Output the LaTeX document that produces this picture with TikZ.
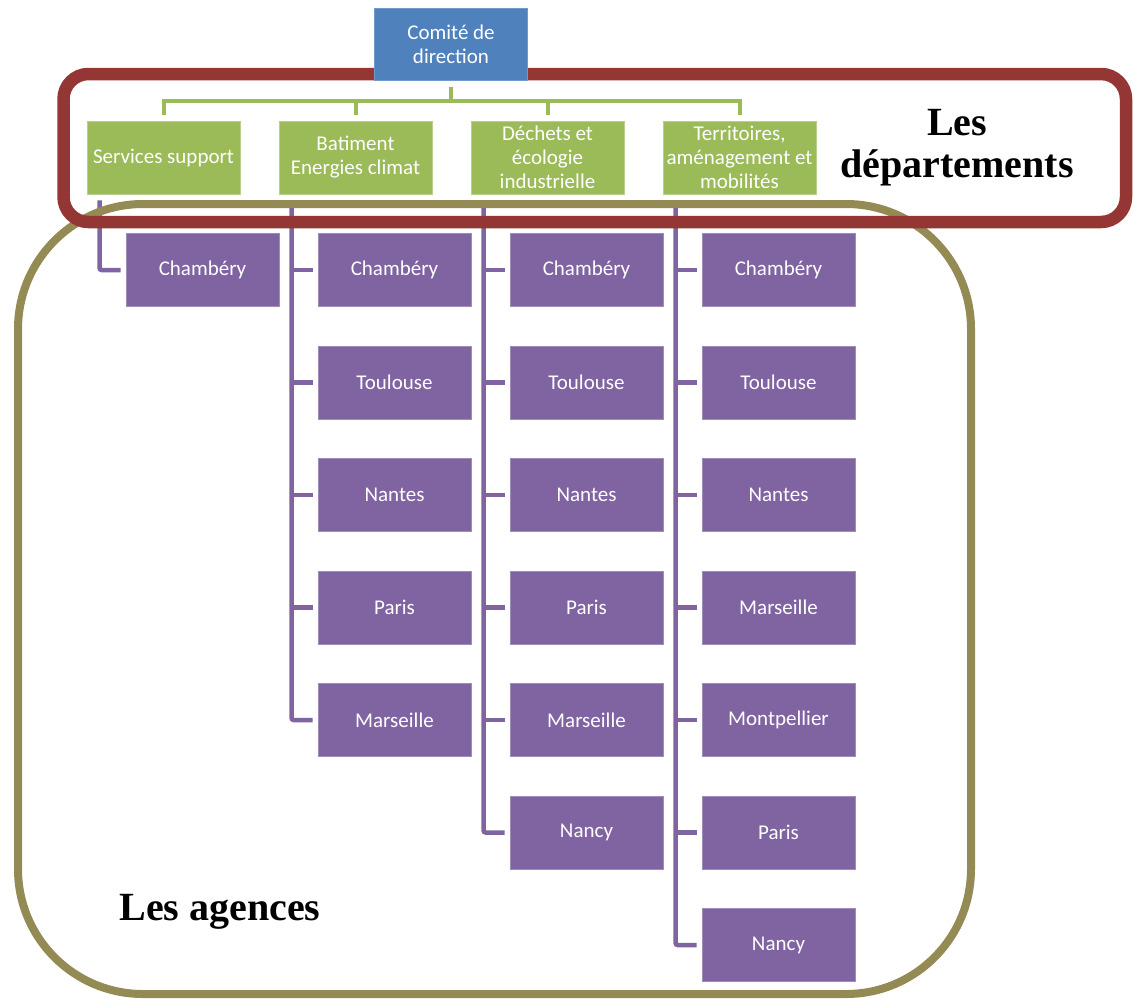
\documentclass[tikz,border=0pt]{standalone}
\usepackage{fontspec}
\setmainfont{Carlito}
\newfontfamily\titlefont{Liberation Serif}
\definecolor{cblue}{HTML}{4F81BD}
\definecolor{cgreen}{HTML}{9BBB59}
\definecolor{cpurple}{HTML}{8064A2}
\definecolor{cred}{HTML}{943634}
\definecolor{colive}{HTML}{948A54}
\tikzset{
  box/.style={rectangle, minimum width=153pt, minimum height=73pt, inner sep=1pt,
    align=center, text=white, line width=0.8pt,
    font=\fontsize{21}{24}\selectfont},
  topbox/.style={box, fill=cblue, draw=cblue!80!white},
  gbox/.style={box, fill=cgreen, draw=cgreen!70!white},
  pbox/.style={box, fill=cpurple, draw=cpurple!75!white},
  gline/.style={draw=cgreen, line width=4pt},
  pline/.style={draw=cpurple, line width=4.5pt},
  title/.style={font=\titlefont\bfseries\fontsize{40}{42}\selectfont, text=black, inner sep=0pt}
}
\begin{document}
\begin{tikzpicture}[x=1pt,y=-1pt]
\fill[white] (0,0) rectangle (1134,998);
\useasboundingbox (0,0) rectangle (1134,998);

% departments
\node[gbox] (g1) at (163.5,157.5) {Services support};
\node[gbox] (g2) at (355.5,157.5) {Batiment\\Energies climat};
\node[gbox] (g3) at (547.5,157.5) {Déchets et\\écologie\\industrielle};
\node[gbox] (g4) at (739.5,157.5) {Territoires,\\aménagement et\\mobilités};

% agencies
\node[pbox] (a1) at (202.5,270) {Chambéry};

\node[pbox] (b1) at (394.5,270) {Chambéry};
\node[pbox] (b2) at (394.5,382.5) {Toulouse};
\node[pbox] (b3) at (394.5,495) {Nantes};
\node[pbox] (b4) at (394.5,607.5) {Paris};
\node[pbox] (b5) at (394.5,720) {Marseille};

\node[pbox] (c1) at (586.5,270) {Chambéry};
\node[pbox] (c2) at (586.5,382.5) {Toulouse};
\node[pbox] (c3) at (586.5,495) {Nantes};
\node[pbox] (c4) at (586.5,607.5) {Paris};
\node[pbox] (c5) at (586.5,720) {Marseille};
\node[pbox] (c6) at (586.5,832.5) {Nancy};

\node[pbox] (d1) at (778.5,270) {Chambéry};
\node[pbox] (d2) at (778.5,382.5) {Toulouse};
\node[pbox] (d3) at (778.5,495) {Nantes};
\node[pbox] (d4) at (778.5,607.5) {Marseille};
\node[pbox] (d5) at (778.5,720) {Montpellier};
\node[pbox] (d6) at (778.5,832.5) {Paris};
\node[pbox] (d7) at (778.5,945) {Nancy};

% purple connectors
\coordinate (sa) at ([xshift=13pt,yshift=-6pt]g1.south west);
\coordinate (sb) at ([xshift=13pt,yshift=-6pt]g2.south west);
\coordinate (sc) at ([xshift=13pt,yshift=-6pt]g3.south west);
\coordinate (sd) at ([xshift=13pt,yshift=-6pt]g4.south west);

\draw[pline, rounded corners=2pt] (sa) |- ([xshift=-5pt]a1.west);

\foreach \n in {b1,b2,b3,b4} \draw[pline] (sb |- \n.west) -- ([xshift=-5pt]\n.west);
\draw[pline, rounded corners=2pt] (sb) |- ([xshift=-5pt]b5.west);

\foreach \n in {c1,c2,c3,c4,c5} \draw[pline] (sc |- \n.west) -- ([xshift=-5pt]\n.west);
\draw[pline, rounded corners=2pt] (sc) |- ([xshift=-5pt]c6.west);

\foreach \n in {d1,d2,d3,d4,d5,d6} \draw[pline] (sd |- \n.west) -- ([xshift=-5pt]\n.west);
\draw[pline, rounded corners=2pt] (sd) |- ([xshift=-5pt]d7.west);

% group outlines
\draw[colive, line width=8pt, rounded corners=125pt] (18,204) rectangle (971,994);
\draw[cred, line width=12.5pt, rounded corners=25pt] (63.5,74) rectangle (1126,222);

% top box
\node[topbox, minimum height=72pt] (top) at (451,44.5) {Comité de\\direction};

% green connectors
\coordinate (hub) at (451,101);
\draw[gline] ([yshift=-6pt]top.south) -- (hub);
\draw[gline] ([yshift=6pt]g1.north) -- (g1.north |- hub) -- (g4.north |- hub) -- ([yshift=6pt]g4.north);
\draw[gline] (g2.north |- hub) -- ([yshift=6pt]g2.north);
\draw[gline] (g3.north |- hub) -- ([yshift=6pt]g3.north);

% labels
\node[title, anchor=base] (dep1) at (957,135) {Les};
\node[title, anchor=base] (dep2) at (957,177) {départements};
\node[title, anchor=base] (agn) at (220,920) {Les agences};
\end{tikzpicture}
\end{document}
